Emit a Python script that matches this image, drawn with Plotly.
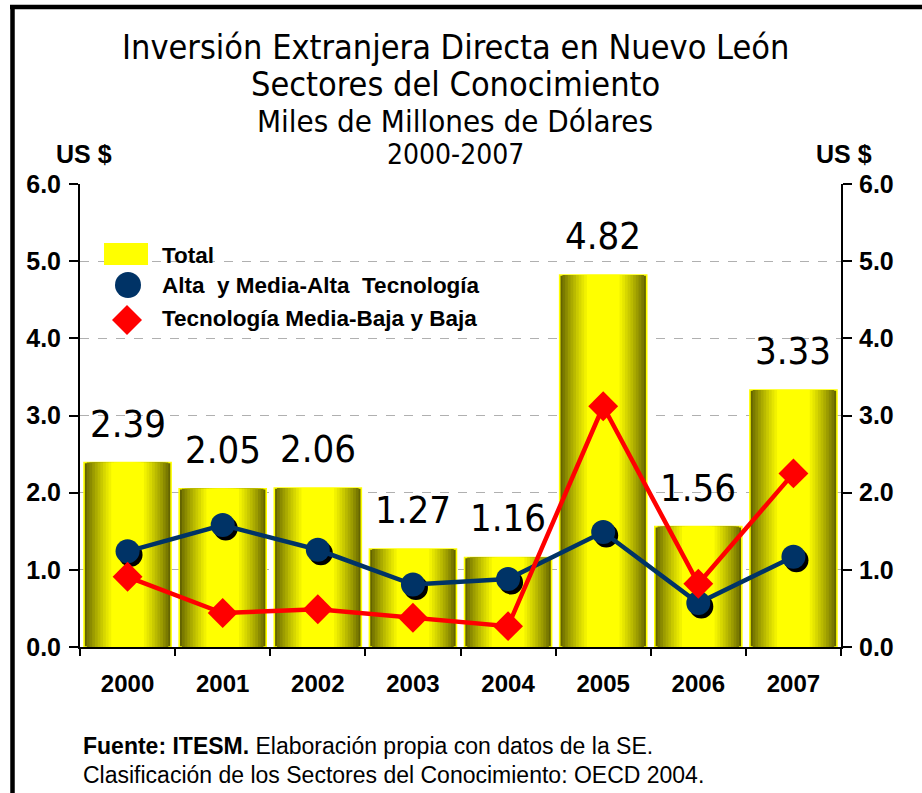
import plotly.graph_objects as go

# ---------------- data ----------------
years = ["2000", "2001", "2002", "2003", "2004", "2005", "2006", "2007"]
total = [2.39, 2.05, 2.06, 1.27, 1.16, 4.82, 1.56, 3.33]
alta = [1.24, 1.58, 1.26, 0.81, 0.88, 1.49, 0.57, 1.17]
baja = [0.91, 0.44, 0.49, 0.38, 0.27, 3.12, 0.82, 2.25]
ytick_vals = [0, 1, 2, 3, 4, 5, 6]

title_lines = ["Inversión Extranjera Directa en Nuevo León",
               "Sectores del Conocimiento",
               "Miles de Millones de Dólares",
               "2000-2007"]
legend_labels = ["Total", "Alta\u00a0 y Media-Alta\u00a0 Tecnología", "Tecnología Media-Baja y Baja"]
footer = ["<b>Fuente: ITESM.</b> Elaboración propia con datos de la SE.",
          "Clasificación de los Sectores del Conocimiento: OECD 2004."]

# ---------------- layout geometry ----------------
W, H = 922, 793
L, R, T, B = 80, 81, 184, 146
PW, PH = W - L - R, H - T - B
YMAX = 6.0
NCAT = len(years)


def px(x):
    return (x - L) / PW


def py(y):
    return (H - B - y) / PH


NARROW = "DejaVu Sans Condensed, Liberation Sans Narrow, sans-serif"
SANS = "Liberation Sans, Arial, sans-serif"

BLUE = "#003366"
RED = "#FF0000"
YELLOW = "#FFFF00"

fig = go.Figure()

# gradient bars (overlayed layers of decreasing width)
BAR_W = 0.915
N = 16
for i in range(N):
    frac = 1 - i / N
    t = min(1.0, i / (N * 0.62))
    t = t ** 0.85
    c0 = 100
    r = int(c0 + (255 - c0) * t)
    col = f"rgb({r},{r},0)"
    fig.add_trace(go.Bar(
        x=years, y=total, width=BAR_W * frac,
        marker=dict(color=col,
                    line=dict(color=YELLOW if i == 0 else col, width=1.6 if i == 0 else 0)),
        showlegend=False, hoverinfo="skip", xaxis="x", yaxis="y"))

# shadow of the circles (offset a few pixels down-right through shifted axes)
dx = 3.0 / (PW / NCAT)
dy = 3.5 / (PH / YMAX)
fig.add_trace(go.Scatter(
    x=years, y=alta, mode="markers",
    marker=dict(symbol="circle", size=24, color="black"),
    showlegend=False, hoverinfo="skip", xaxis="x2", yaxis="y2"))

fig.add_trace(go.Scatter(
    x=years, y=alta, mode="lines+markers",
    line=dict(color=BLUE, width=4.5),
    marker=dict(symbol="circle", size=24, color=BLUE),
    showlegend=False, xaxis="x3", yaxis="y3"))

fig.add_trace(go.Scatter(
    x=years, y=baja, mode="lines+markers",
    line=dict(color=RED, width=4.5),
    marker=dict(symbol="diamond", size=23, color=RED),
    showlegend=False, xaxis="x3", yaxis="y3"))

annotations = []
# value labels above bars (x given as category index)
for i, v in enumerate(total):
    annotations.append(dict(x=i, y=v, xref="x", yref="y", text=f"{v:.2f}",
                            showarrow=False, yanchor="bottom", yshift=15,
                            font=dict(family=NARROW, size=38, color="black")))

# title lines
title_specs = [(47, 34), (84, 34), (121, 31), (154, 28)]
for txt, (yc, fs) in zip(title_lines, title_specs):
    annotations.append(dict(x=px(455), y=py(yc), xref="paper", yref="paper",
                            text=txt, showarrow=False, xanchor="center", yanchor="middle",
                            font=dict(family=NARROW, size=fs, color="black")))

# US $ labels
for xc in (84, 844):
    annotations.append(dict(x=px(xc), y=py(154), xref="paper", yref="paper",
                            text="US $", showarrow=False, xanchor="center",
                            yanchor="middle",
                            font=dict(family=SANS, size=25, color="black", weight="bold")))

# legend texts
for txt, yc in zip(legend_labels, (255, 285.5, 318)):
    annotations.append(dict(x=px(160), y=py(yc), xref="paper", yref="paper",
                            text=txt, showarrow=False, xanchor="left",
                            yanchor="middle",
                            font=dict(family=SANS, size=22.5, color="black", weight="bold")))

# footer
for txt, yc in zip(footer, (745.5, 774.5)):
    annotations.append(dict(x=px(81), y=py(yc), xref="paper", yref="paper",
                            text=txt, showarrow=False, xanchor="left", yanchor="middle",
                            font=dict(family=SANS, size=23, color="black")))

shapes = [
    # frame (left and top edges)
    dict(type="line", xref="paper", yref="paper", x0=px(12.5), x1=px(12.5),
         y0=py(5), y1=py(H + 10), line=dict(color="black", width=4.5)),
    dict(type="line", xref="paper", yref="paper", x0=px(10), x1=px(W + 10),
         y0=py(7), y1=py(7), line=dict(color="black", width=4.5)),
    # legend symbols
    dict(type="rect", xref="paper", yref="paper", x0=px(104), x1=px(148),
         y0=py(243), y1=py(265), fillcolor=YELLOW, line=dict(width=0)),
    dict(type="circle", xref="paper", yref="paper", x0=px(115), x1=px(141),
         y0=py(272), y1=py(298), fillcolor=BLUE, line=dict(width=0)),
    dict(type="path", xref="paper", yref="paper",
         path=(f"M {px(127)},{py(305)} L {px(142)},{py(320)} "
               f"L {px(127)},{py(335)} L {px(112)},{py(320)} Z"),
         fillcolor=RED, line=dict(width=0)),
]

tick_font = dict(family=SANS, size=25, color="black", weight="bold")
boundaries = [i - 0.5 for i in range(NCAT + 1)]
fig.update_layout(
    width=W, height=H,
    margin=dict(l=L, r=R, t=T, b=B),
    paper_bgcolor="white", plot_bgcolor="white",
    barmode="overlay",
    showlegend=False,
    xaxis=dict(type="category", categoryorder="array", categoryarray=years,
               range=[-0.5, NCAT - 0.5],
               showline=True, linecolor="black", linewidth=2,
               ticks="outside", tickson="boundaries", ticklen=7, tickwidth=1.5,
               tickcolor="black", showgrid=False, zeroline=False,
               tickfont=dict(family=SANS, size=24, color="black", weight="bold"),
               ticklabelstandoff=14),
    xaxis2=dict(type="category", categoryorder="array", categoryarray=years,
                overlaying="x", visible=False,
                range=[-0.5 - dx, NCAT - 0.5 - dx]),
    xaxis3=dict(type="category", categoryorder="array", categoryarray=years,
                overlaying="x", visible=False,
                range=[-0.5, NCAT - 0.5]),
    xaxis4=dict(type="linear", overlaying="x", anchor="y", side="bottom",
                range=[-0.5, NCAT - 0.5], tickmode="array", tickvals=boundaries,
                ticks="inside", ticklen=9, tickwidth=1.5, tickcolor="black",
                showticklabels=False, showline=False, showgrid=False, zeroline=False),
    yaxis=dict(range=[0, YMAX], tickvals=ytick_vals, tickformat=".1f",
               ticks="outside", ticklen=9, tickwidth=2, tickcolor="black",
               showline=True, linecolor="black", linewidth=2,
               showgrid=True, gridcolor="#b0b0b0", griddash="dash", gridwidth=1,
               zeroline=False, tickfont=tick_font, ticklabelstandoff=3),
    yaxis2=dict(overlaying="y", visible=False, range=[dy, YMAX + dy]),
    yaxis3=dict(overlaying="y", side="right", anchor="x", range=[0, YMAX],
                tickvals=ytick_vals, tickformat=".1f",
                ticks="outside", ticklen=9, tickwidth=2, tickcolor="black",
                showline=True, linecolor="black", linewidth=2,
                showgrid=False, zeroline=False, tickfont=tick_font,
                ticklabelstandoff=2),
    yaxis4=dict(overlaying="y", side="left", anchor="x", range=[0, YMAX],
                tickvals=ytick_vals, ticks="inside", ticklen=9, tickwidth=2,
                tickcolor="black", showticklabels=False, showline=False,
                showgrid=False, zeroline=False),
    yaxis5=dict(overlaying="y", side="right", anchor="x", range=[0, YMAX],
                tickvals=ytick_vals, ticks="inside", ticklen=9, tickwidth=2,
                tickcolor="black", showticklabels=False, showline=False,
                showgrid=False, zeroline=False),
    annotations=annotations,
    shapes=shapes,
)

fig.write_html("out.html", config={"displayModeBar": False},
               post_script="document.body.style.margin='0';")
